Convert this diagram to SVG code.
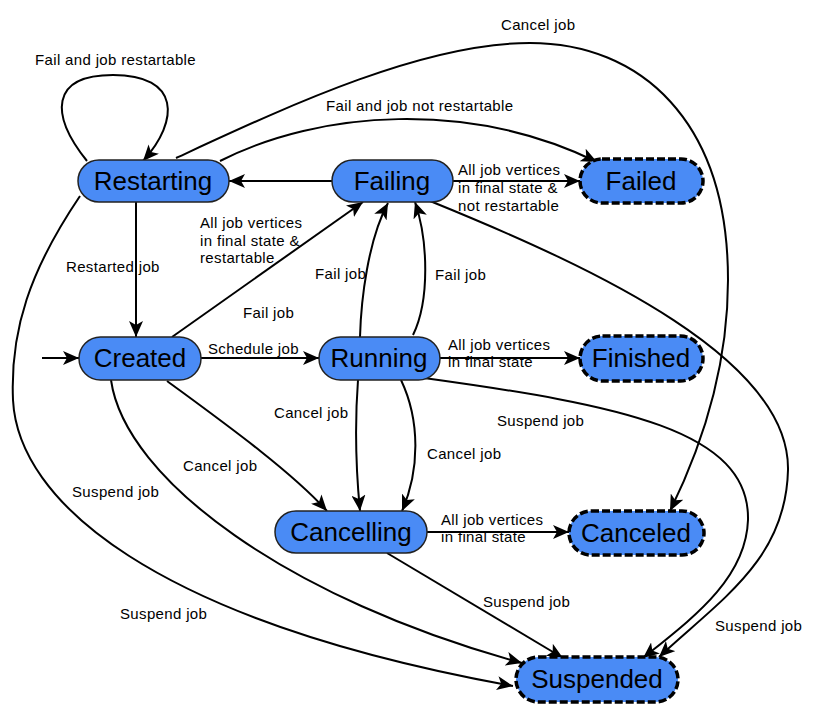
<svg xmlns="http://www.w3.org/2000/svg" width="818" height="715" viewBox="0 0 818 715">
<style>
.node{fill:#4a8bf5;stroke:#222;stroke-width:1.5}
.final{fill:#4a8bf5;stroke:#000;stroke-width:3.5;stroke-dasharray:8 3}
.nt{font-family:"Liberation Sans",Arial,sans-serif;font-size:26px;fill:#000;text-anchor:middle}
.lb{font-family:"Liberation Sans",Arial,sans-serif;font-size:15px;letter-spacing:0.35px;fill:#000}
.e{fill:none;stroke:#000;stroke-width:2;marker-end:url(#ah)}
</style>
<defs>
<marker id="ah" markerUnits="userSpaceOnUse" markerWidth="18" markerHeight="14" refX="16" refY="7" orient="auto">
<path d="M0,0 L16,7 L0,14 L4,7 Z" fill="#000"/>
</marker>
</defs>
<rect width="818" height="715" fill="#fff"/>
<g id="connectors">
<path class="e" d="M42,358 L79,358"/>
<path class="e" d="M87,161 C50,115 50,75 113,75 C180,75 180,120 143,161"/>
<path class="e" d="M220,161 C320,110 470,100 597,162"/>
<path class="e" d="M176,158 C280,110 420,43 530,43 C640,43 728,120 728,280 C728,370 700,450 670,511"/>
<path class="e" d="M332,181 L229,181"/>
<path class="e" d="M453,181 L580,181"/>
<path class="e" d="M430,201 C600,270 790,360 788,470 C786,560 720,600 659,657"/>
<path class="e" d="M424,378 C620,405 750,430 748,520 C746,580 690,620 643,658"/>
<path class="e" d="M172,337 L363,202"/>
<path class="e" d="M360,337 C361,300 368,240 388,203"/>
<path class="e" d="M413,335 C430,300 428,240 415,202"/>
<path class="e" d="M201,358 L319,358"/>
<path class="e" d="M136,202 L136,337"/>
<path class="e" d="M440,358 L580,358"/>
<path class="e" d="M358,380 C355,420 356,470 360,511"/>
<path class="e" d="M401,380 C420,420 420,470 402,511"/>
<path class="e" d="M167,381 C220,420 290,470 327,511"/>
<path class="e" d="M111,380 C125,480 290,600 522,663"/>
<path class="e" d="M80,196 C30,270 10,330 13,400 C18,500 150,620 513,686"/>
<path class="e" d="M387,553 L563,658"/>
<path class="e" d="M427,532 L569,532"/>
</g>
<g id="labels">
<text class="lb" x="501" y="30">Cancel job</text>
<text class="lb" x="35" y="65">Fail and job restartable</text>
<text class="lb" x="326" y="111">Fail and job not restartable</text>
<text class="lb" x="458" y="175">All job vertices</text>
<text class="lb" x="458" y="193">in final state &amp;</text>
<text class="lb" x="458" y="211">not restartable</text>
<text class="lb" x="200" y="228">All job vertices</text>
<text class="lb" x="200" y="246">in final state &amp;</text>
<text class="lb" x="200" y="263">restartable</text>
<text class="lb" x="66" y="272">Restarted job</text>
<text class="lb" x="315" y="279">Fail job</text>
<text class="lb" x="435" y="280">Fail job</text>
<text class="lb" x="243" y="318">Fail job</text>
<text class="lb" x="208" y="354">Schedule job</text>
<text class="lb" x="448" y="350">All job vertices</text>
<text class="lb" x="448" y="367">in final state</text>
<text class="lb" x="274" y="418">Cancel job</text>
<text class="lb" x="497" y="426">Suspend job</text>
<text class="lb" x="427" y="459">Cancel job</text>
<text class="lb" x="183" y="471">Cancel job</text>
<text class="lb" x="72" y="497">Suspend job</text>
<text class="lb" x="441" y="525">All job vertices</text>
<text class="lb" x="441" y="542">in final state</text>
<text class="lb" x="483" y="607">Suspend job</text>
<text class="lb" x="120" y="619">Suspend job</text>
<text class="lb" x="715" y="631">Suspend job</text>
</g>
<g id="restarting"><rect class="node" x="78" y="160" width="151" height="42" rx="21"/><text class="nt" x="153" y="190">Restarting</text></g>
<g id="failing"><rect class="node" x="332" y="160" width="121" height="42" rx="21"/><text class="nt" x="392" y="190">Failing</text></g>
<g id="failed"><rect class="final" x="580" y="159" width="123" height="44" rx="22"/><text class="nt" x="641" y="190">Failed</text></g>
<g id="created"><rect class="node" x="79" y="337" width="122" height="43" rx="21.5"/><text class="nt" x="140" y="367">Created</text></g>
<g id="running"><rect class="node" x="319" y="337" width="121" height="43" rx="21.5"/><text class="nt" x="379" y="367">Running</text></g>
<g id="finished"><rect class="final" x="580" y="336" width="123" height="45" rx="22.5"/><text class="nt" x="641" y="367">Finished</text></g>
<g id="cancelling"><rect class="node" x="275" y="511" width="152" height="42" rx="21"/><text class="nt" x="351" y="541">Cancelling</text></g>
<g id="canceled"><rect class="final" x="569" y="511" width="135" height="44" rx="22"/><text class="nt" x="636" y="542">Canceled</text></g>
<g id="suspended"><rect class="final" x="516" y="657" width="162" height="45" rx="22.5"/><text class="nt" x="597" y="688">Suspended</text></g>
</svg>
